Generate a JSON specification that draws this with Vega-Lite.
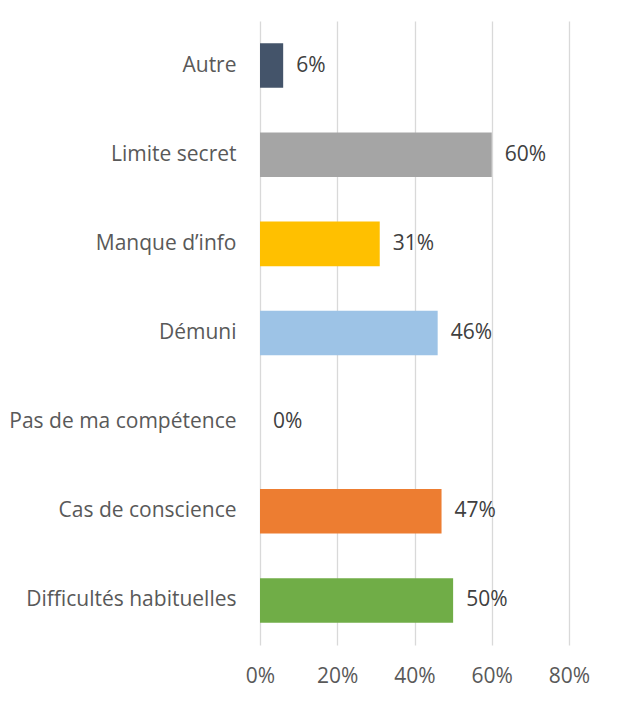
{
  "$schema": "https://vega.github.io/schema/vega-lite/v6.json",
  "autosize": "none",
  "width": 309,
  "height": 624,
  "padding": {"left": 260, "top": 21, "right": 49, "bottom": 59},
  "background": "white",
  "config": {"view": {"stroke": null}, "font": "Open Sans"},
  "data": {"values": [
    {"cat": "Autre", "v": 0.06, "label": "6%"},
    {"cat": "Limite secret", "v": 0.60, "label": "60%"},
    {"cat": "Manque d’info", "v": 0.31, "label": "31%"},
    {"cat": "Démuni", "v": 0.46, "label": "46%"},
    {"cat": "Pas de ma compétence", "v": 0.0, "label": "0%"},
    {"cat": "Cas de conscience", "v": 0.47, "label": "47%"},
    {"cat": "Difficultés habituelles", "v": 0.50, "label": "50%"}
  ]},
  "encoding": {
    "y": {"field": "cat", "type": "nominal", "sort": null,
      "scale": {"paddingInner": 0.5, "paddingOuter": 0.25},
      "axis": {"title": null, "ticks": false, "domain": false, "labelFontSize": 21, "labelColor": "#595959", "labelPadding": 24, "labelFont": "Open Sans", "labelLimit": 300}},
    "x": {"field": "v", "type": "quantitative",
      "scale": {"domain": [0, 0.8], "nice": false},
      "axis": {"title": null, "format": ".0%", "values": [0, 0.2, 0.4, 0.6, 0.8], "ticks": false, "domain": false, "grid": true, "gridColor": "#D9D9D9", "gridWidth": 1.3, "labelFontSize": 21, "labelColor": "#595959", "labelPadding": 20, "labelFont": "Open Sans", "labelFlush": false}}
  },
  "layer": [
    {"mark": {"type": "bar"},
     "encoding": {"color": {"field": "cat", "type": "nominal", "legend": null,
       "scale": {"domain": ["Autre", "Limite secret", "Manque d’info", "Démuni", "Pas de ma compétence", "Cas de conscience", "Difficultés habituelles"],
                 "range": ["#44546A", "#A5A5A5", "#FFC000", "#9DC3E6", "#5B9BD5", "#ED7D31", "#70AD47"]}}}},
    {"mark": {"type": "text", "align": "left", "dx": 13, "fontSize": 21, "color": "#404040", "font": "Open Sans"},
     "encoding": {"text": {"field": "label"}}}
  ]
}
